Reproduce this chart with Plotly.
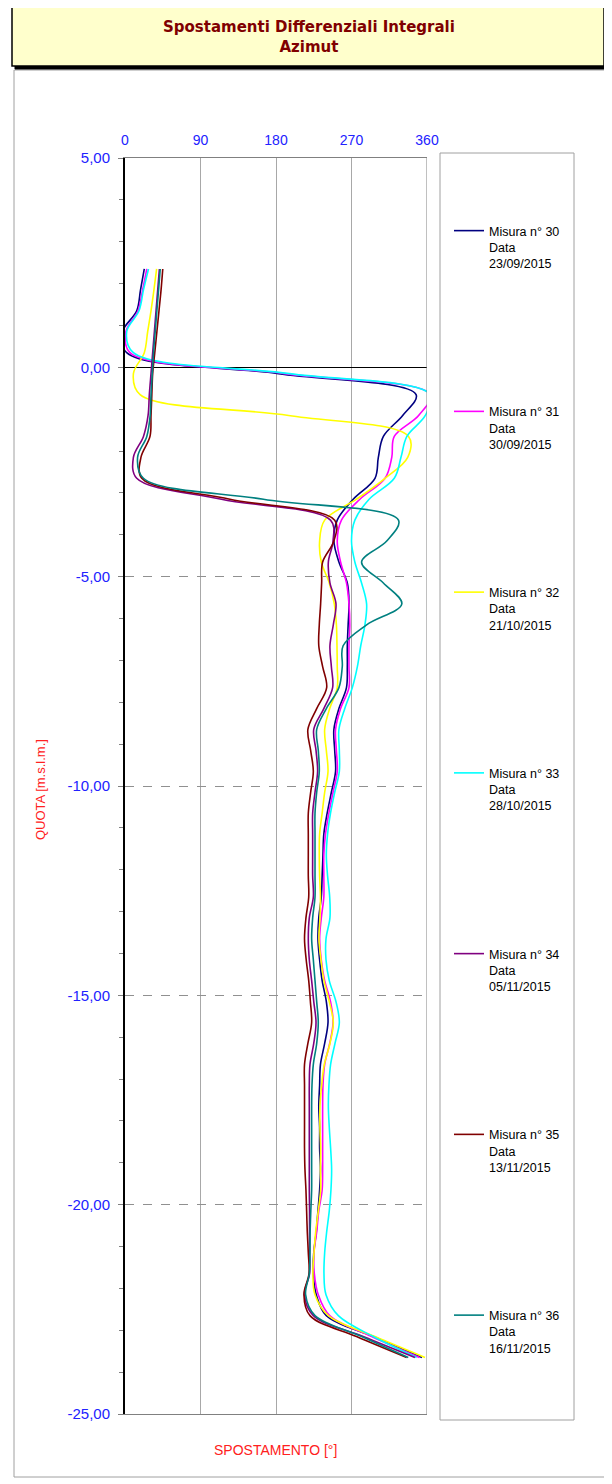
import plotly.graph_objects as go

# depth of each reading [m s.l.m.]
depth = [2.35, 1.85, 1.35, 0.85, 0.35, -0.15, -0.65, -1.15, -1.65, -2.15,
         -2.65, -3.15, -3.65, -4.15, -4.65, -5.15, -5.65, -6.15, -6.65, -7.15,
         -7.65, -8.15, -8.65, -9.15, -9.65, -10.15, -10.65, -11.15, -11.65, -12.15,
         -12.65, -13.15, -13.65, -14.15, -14.65, -15.15, -15.65, -16.15, -16.65, -17.15,
         -17.65, -18.15, -18.65, -19.15, -19.65, -20.15, -20.65, -21.15, -21.65, -22.15,
         -22.65, -23.15, -23.65]

# azimuth [deg] for each measurement
m30 = [23, 18.5, 14, -3, 2, 183, 347, 331, 308, 302,
       298, 272, 253, 249, 255, 265, 267, 266, 265, 265,
       264, 255, 249, 250, 251, 246, 241, 237, 236, 235,
       234, 231, 230, 232, 235, 240, 242, 238, 233, 232,
       231, 232, 232, 233, 232, 230, 228, 225, 224.5, 228,
       240, 296, 354]
m31 = [26, 21, 15.5, 1, 6, 190, 364, 350, 321, 318,
       310, 280, 258, 253, 257, 264, 267, 268, 267, 267,
       267, 257, 251, 252, 253, 248, 243, 239, 237, 237,
       237, 234, 232, 234, 238, 245, 248, 244, 238, 236,
       235.6, 235.6, 235.6, 235.6, 235, 231, 228.5, 225.3, 225.7, 230.4,
       244, 294, 351]
m32 = [37.7, 34.5, 31, 27, 23, 10, 18, 195, 338, 337,
       310, 276, 238, 232, 234, 243.5, 249.5, 252, 252.7, 253,
       253, 244, 238, 240, 242, 238, 235, 232, 231.6, 232,
       233, 232.4, 231.2, 233.6, 237.2, 243.5, 248.3, 244.3, 237.6, 234.4,
       232.4, 232.4, 233.2, 233, 233.2, 230.4, 227.3, 225.3, 224, 226.5,
       242.4, 298, 357.6]
m33 = [28, 22, 16.7, 2, 10, 196, 364, 358, 336, 329,
       321, 291, 274, 270, 274, 282, 288, 286, 281, 277,
       271, 262, 255, 255.5, 255.5, 250, 245, 241.5, 240, 241.5,
       244, 244.3, 239.6, 239.6, 243.5, 251.5, 255.5, 250.3, 245.1, 243.1,
       242.4, 243.5, 245.1, 246.3, 245.5, 243.5, 240.4, 238, 237.2, 239.6,
       254.3, 296, 347.6]
m34 = [41, 39, 37, 35, 33, 31, 29, 27.5, 22, 10,
       14, 115, 245, 248, 242.4, 244.3, 251.5, 248.3, 244.3, 246,
       247.5, 237, 225, 227.7, 229.6, 226.5, 223.7, 223.7, 223.7, 223.7,
       224.5, 219.7, 218.5, 219.7, 222.5, 225, 227.7, 225, 220.5, 219.7,
       219.7, 219.7, 219.7, 219.7, 219.7, 220, 220, 220, 220, 214,
       224.5, 284, 345.6]
m35 = [45, 43, 40.5, 38, 35.5, 33, 32, 31, 29.8, 19,
       20, 125, 250, 249, 235.6, 234.4, 233.2, 231.6, 231, 235.6,
       240.4, 228.5, 218, 221.3, 224.5, 221.3, 218.5, 218.5, 218.5, 218.5,
       219, 215.7, 214, 216, 219, 221, 222.5, 218, 214, 214,
       214, 214, 214, 214.5, 215.7, 216.5, 217.3, 218.5, 219.3, 213.3,
       220.5, 276, 335.7]
m36 = [42, 40, 38, 36, 34, 32.5, 31, 30, 26, 15,
       22, 165, 326, 312, 282, 308, 330, 288, 260, 259,
       255, 240, 228.5, 230.4, 231.6, 228.5, 226.5, 226.5, 226.5, 226.5,
       226.5, 223.7, 222.5, 224.5, 226.5, 228.5, 230.4, 228.5, 224.5, 222.9,
       222.5, 222.5, 222.5, 222.5, 222.5, 221.5, 220.7, 220.5, 219.7, 215.3,
       226.5, 282, 337.7]

series_names = ["Misura n° 30<br>Data<br>23/09/2015",
                "Misura n° 31<br>Data<br>30/09/2015",
                "Misura n° 32<br>Data<br>21/10/2015",
                "Misura n° 33<br>Data<br>28/10/2015",
                "Misura n° 34<br>Data<br>05/11/2015",
                "Misura n° 35<br>Data<br>13/11/2015",
                "Misura n° 36<br>Data<br>16/11/2015"]
series_colors = ["#000080", "#FF00FF", "#FFFF00", "#00FFFF", "#800080", "#800000", "#008080"]

x_tick_vals = [0, 90, 180, 270, 360]
x_tick_text = ["0", "90", "180", "270", "360"]
y_tick_vals = [5, 0, -5, -10, -15, -20, -25]
y_tick_text = ["5,00", "0,00", "-5,00", "-10,00", "-15,00", "-20,00", "-25,00"]

# the page body adds an 8px margin, so the figure is drawn 8px in from the corner
OFF = 8
W, H = 612 - OFF, 1484 - OFF
# plot area in page pixels
L, R, T, B = 125, 427, 158, 1414


def px(x):
    return (x - L) / (R - L)


def py(y):
    return (B - y) / (B - T)


fig = go.Figure()
for name, color, vals in zip(series_names, series_colors, [m30, m31, m32, m33, m34, m35, m36]):
    fig.add_trace(go.Scatter(x=vals, y=depth, mode="lines", name=name, legendgroup=name,
                             line=dict(color=color, width=1.6, shape="spline", smoothing=1.0)))

blue = "#2222FF"
shapes = [
    # chart area frame
    dict(type="rect", xref="paper", yref="paper", x0=px(14), x1=px(606), y0=py(70), y1=py(1477),
         line=dict(color="#A0A0A0", width=1), fillcolor="white", layer="below"),
    # title shadow + box
    dict(type="rect", xref="paper", yref="paper", x0=px(15), x1=px(607), y0=py(9), y1=py(69),
         line=dict(color="black", width=1), fillcolor="black", layer="below"),
    dict(type="rect", xref="paper", yref="paper", x0=px(12), x1=px(604), y0=py(6), y1=py(66),
         line=dict(color="black", width=1.5), fillcolor="#FFFFCC", layer="below"),
    # legend frame
    dict(type="rect", xref="paper", yref="paper", x0=px(440), x1=px(574), y0=py(153), y1=py(1420),
         line=dict(color="#A0A0A0", width=1), layer="below"),
    # right edge of plot
    dict(type="line", xref="x", yref="y", x0=360, x1=360, y0=-25, y1=5,
         line=dict(color="#808080", width=1)),
]

fig.update_layout(
    width=W, height=H,
    margin=dict(l=L - OFF, r=W - (R - OFF), t=T - OFF, b=H - (B - OFF)),
    paper_bgcolor="white", plot_bgcolor="white",
    font=dict(family="Liberation Sans, Arial", size=13, color="black"),
    shapes=shapes,
    showlegend=True,
    legend=dict(x=px(449), y=py(216), xanchor="left", yanchor="top",
                bgcolor="rgba(0,0,0,0)", font=dict(size=12.5, family="Liberation Sans, Arial"),
                tracegroupgap=129, valign="top", itemwidth=30),
    annotations=[
        dict(text="Spostamenti Differenziali Integrali<br>Azimut", xref="paper", yref="paper",
             x=px(309), y=py(37), showarrow=False, xanchor="center", yanchor="middle",
             font=dict(family="DejaVu Sans", size=15, color="#800000", weight="bold")),
        dict(text="SPOSTAMENTO [°]", xref="paper", yref="paper", x=px(275), y=py(1450),
             showarrow=False, xanchor="center", yanchor="middle",
             font=dict(size=14, color="#FF2020")),
        dict(text="QUOTA [m.s.l.m.]", xref="paper", yref="paper", x=px(40), y=py(790),
             showarrow=False, textangle=-90, xanchor="center", yanchor="middle",
             font=dict(size=13, color="#FF2020")),
    ],
)

fig.update_xaxes(range=[0, 360], side="top", tickvals=x_tick_vals, ticktext=x_tick_text,
                 tickfont=dict(color=blue, size=14), ticks="", ticklabelstandoff=6,
                 showgrid=True, gridcolor="#A8A8A8", gridwidth=1,
                 showline=True, linecolor="#808080", linewidth=1, mirror=True, zeroline=False)
fig.update_yaxes(range=[-25, 5], tickvals=y_tick_vals, ticktext=y_tick_text,
                 tickfont=dict(color=blue, size=15), ticks="outside", ticklen=5, tickcolor="#808080",
                 ticklabelstandoff=5,
                 showgrid=True, gridcolor="#909090", griddash="dash", gridwidth=1,
                 zeroline=True, zerolinecolor="black", zerolinewidth=1,
                 showline=True, linecolor="black", linewidth=2,
                 minor=dict(dtick=1, ticks="outside", ticklen=4, tickcolor="#808080", showgrid=False))

fig.write_html("out.html")
